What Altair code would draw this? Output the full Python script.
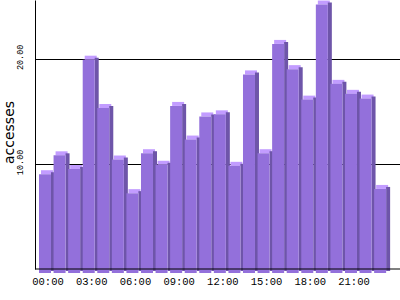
import altair as alt
import pandas as pd

hours = [f"{h:02d}:00" for h in range(24)]
accesses = [9.4, 11.2, 9.9, 20.3, 15.7, 10.8, 7.6, 11.4, 10.3, 15.9, 12.7, 14.9,
            15.1, 10.2, 18.9, 11.4, 21.8, 19.4, 16.5, 25.55, 18.0, 17.05, 16.6, 8.0]
tick_hours = ["00:00", "03:00", "06:00", "09:00", "12:00", "15:00", "18:00", "21:00"]
y_ticks = [10, 20]

FRONT = "#9370DB"
TOP = "#C29CFF"
SIDE = "#6E55A9"

df = pd.DataFrame({"hour": hours, "accesses": accesses})

xscale = alt.Scale(type="band", paddingInner=0.176, paddingOuter=0.613, align=0.2235, round=False)
yscale = alt.Scale(domain=[0, 25.6], nice=False, zero=True)

x_axis = alt.Axis(values=tick_hours, labelAngle=0, ticks=False, domain=False, grid=False,
                  labelFont="Liberation Mono", labelFontSize=10.5, labelColor="black",
                  labelPadding=7, labelOffset=3, title=None)
y_axis = alt.Axis(values=y_ticks, format=".2f", ticks=False, domain=True, domainColor="black",
                  grid=True, gridColor="black", gridOpacity=1, gridWidth=1,
                  labelAngle=270, labelAlign="center", labelBaseline="bottom",
                  labelFont="Liberation Mono", labelFontSize=8.5, labelColor="black",
                  labelPadding=11, labelOffset=-2, title="accesses", titleFont="DejaVu Sans",
                  titleFontSize=14, titleFontWeight="normal", titleColor="black",
                  titleAngle=270, titleAlign="center", titleBaseline="middle",
                  titleX=-26, titleY=132)

base = alt.Chart(df)

top = base.mark_bar(width=12, xOffset=2, color=TOP, y2Offset=4).encode(
    x=alt.X("hour:O", scale=xscale, axis=x_axis, sort=hours),
    y=alt.Y("accesses:Q", scale=yscale, axis=y_axis),
    y2="accesses:Q",
)
side = base.mark_bar(width=4, xOffset=8, color=SIDE, yOffset=2, y2Offset=2).encode(
    x=alt.X("hour:O", scale=xscale, sort=hours),
    y=alt.Y("accesses:Q", scale=yscale),
)
front = base.mark_bar(width=12, color=FRONT, yOffset=4, y2Offset=4).encode(
    x=alt.X("hour:O", scale=xscale, sort=hours),
    y=alt.Y("accesses:Q", scale=yscale),
)
baseline = alt.Chart(pd.DataFrame({"v": [0]})).mark_rule(color="black", strokeWidth=1).encode(
    y=alt.Y("v:Q", scale=yscale)
)

chart = alt.layer(top, side, front, baseline).properties(
    width=365, height=269,
    autosize=alt.AutoSizeParams(type="none"),
    padding={"left": 35, "top": 0, "right": 0, "bottom": 31},
    background="white",
).configure_view(stroke=None)

chart.save("out.html", embed_options={"renderer": "svg", "actions": False})
